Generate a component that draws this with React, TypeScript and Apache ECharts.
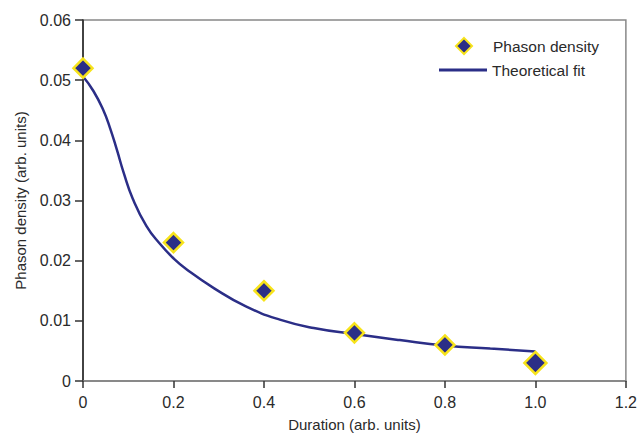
import React, { useEffect, useRef } from "react";
import * as echarts from "echarts";

const durations = [0, 0.2, 0.4, 0.6, 0.8, 1.0];
const density = [0.052, 0.023, 0.015, 0.008, 0.006, 0.003];

const fitX = [0, 0.023, 0.045, 0.06, 0.075, 0.09, 0.11, 0.14, 0.17, 0.2, 0.23, 0.29, 0.36, 0.435, 0.51, 0.6, 0.7, 0.8, 0.9, 1.0];
const fitY = [0.0506, 0.0482, 0.045, 0.042, 0.0384, 0.0346, 0.0303, 0.0258, 0.0228, 0.0204, 0.0185, 0.0154, 0.0124, 0.0102, 0.0088, 0.0078, 0.0068, 0.0059, 0.0054, 0.0049];

const xTicks = ["0", "0.2", "0.4", "0.6", "0.8", "1.0", "1.2"];
const yTicks = ["0", "0.01", "0.02", "0.03", "0.04", "0.05", "0.06"];

const FONT = "'Liberation Sans', Arial, sans-serif";
const NAVY = "#2B2E87";
const YELLOW = "#F7E31B";
const TEXT = "#2a2a2a";

export default function App() {
  const ref = useRef<HTMLDivElement>(null);
  useEffect(() => {
    document.body.style.margin = "0";
    const chart = echarts.init(ref.current!, null, { renderer: "svg" });
    chart.setOption({
      animation: false,
      textStyle: { fontFamily: FONT },
      grid: {
        left: 83, top: 20, width: 543, height: 366,
        show: true, borderColor: "#888", borderWidth: 1.5, backgroundColor: "#fff",
      },
      legend: [
        {
          orient: "vertical",
          left: 455,
          top: 37,
          padding: 0,
          itemWidth: 16,
          itemHeight: 16,
          textStyle: { fontFamily: FONT, fontSize: 15.5, color: TEXT, padding: [0, 0, 0, 16] },
          data: [{ name: "Phason density", icon: "diamond" }],
        },
        {
          orient: "vertical",
          left: 439,
          top: 62,
          padding: 0,
          itemWidth: 48,
          itemHeight: 3,
          textStyle: { fontFamily: FONT, fontSize: 15.5, color: TEXT },
          data: [{ name: "Theoretical fit", icon: "rect" }],
        },
      ],
      xAxis: {
        type: "value",
        min: 0, max: 1.2, interval: 0.2,
        name: "Duration (arb. units)",
        nameLocation: "middle",
        nameGap: 36,
        nameTextStyle: { fontFamily: FONT, fontSize: 15, color: TEXT },
        axisLine: { show: true, lineStyle: { color: "#808080", width: 1.5 } },
        axisTick: { show: true, length: 7, lineStyle: { color: "#333", width: 1.5 } },
        axisLabel: {
          margin: 13, fontSize: 16, color: TEXT, fontFamily: FONT,
          formatter: (v: number) => xTicks[Math.round(v / 0.2)] ?? "",
        },
        splitLine: { show: false },
      },
      yAxis: {
        type: "value",
        min: 0, max: 0.06, interval: 0.01,
        name: "Phason density (arb. units)",
        nameLocation: "middle",
        nameGap: 55,
        nameRotate: 90,
        nameTextStyle: { fontFamily: FONT, fontSize: 15, color: TEXT },
        axisLine: { show: true, lineStyle: { color: "#222", width: 1.5 } },
        axisTick: { show: true, length: 8, lineStyle: { color: "#333", width: 1.5 } },
        axisLabel: {
          margin: 12, fontSize: 16, color: TEXT, fontFamily: FONT,
          formatter: (v: number) => yTicks[Math.round(v / 0.01)] ?? "",
        },
        splitLine: { show: false },
      },
      series: [
        {
          name: "Theoretical fit",
          type: "line",
          symbol: "none",
          smooth: 0.5,
          z: 2,
          lineStyle: { color: NAVY, width: 2.5 },
          itemStyle: { color: NAVY },
          data: fitX.map((x, i) => [x, fitY[i]]),
        },
        {
          name: "Phason density",
          type: "scatter",
          symbol: "diamond",
          symbolSize: 19,
          z: 3,
          itemStyle: { color: NAVY, borderColor: YELLOW, borderWidth: 2.5, opacity: 1 },
          data: durations.map((x, i) => ({
            value: [x, density[i]],
            symbolSize: i === durations.length - 1 ? 22 : 19,
          })),
        },
      ],
    });
    return () => chart.dispose();
  }, []);
  return <div ref={ref} style={{ width: 640, height: 437 }} />;
}
